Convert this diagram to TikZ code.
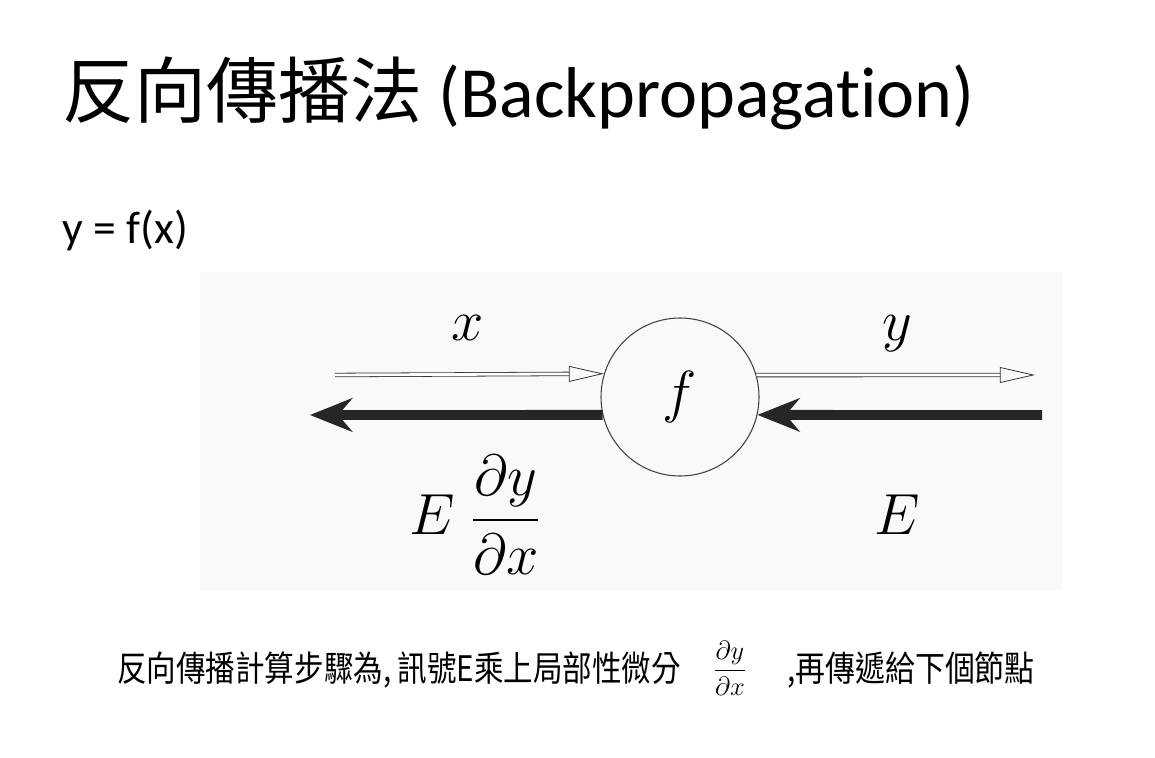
\documentclass[tikz,border=0pt]{standalone}
\usepackage{fix-cm}
\usepackage{amsmath}
\usepackage{fontspec}
\setmainfont{Carlito}[Ligatures=NoCommon]
\newfontfamily\cjk{Noto Sans CJK TC}
\usepackage{tikz}
\usetikzlibrary{arrows.meta}
\tikzset{
  fwdarrow/.style={-{Triangle[open, length=20pt, width=9pt]}, double, double distance=1.6pt,
    line width=0.45pt, draw=black!80},
  backarrow/.style={-{Stealth[length=24pt, width=19pt, inset=8pt]}, line width=5.6pt, draw=black!85},
  mathlbl/.style={font=\fontsize{33}{40}\selectfont, inner sep=1pt}
}
\definecolor{ScanBg}{HTML}{F9F9F9}

\begin{document}
\begin{tikzpicture}[
  fnode/.style={draw=black!75, circle, line width=0.6pt, minimum size=3.16cm, inner sep=0pt,
    font=\fontsize{33}{40}\selectfont},
  titletext/.style={anchor=base west, inner sep=0pt, font=\fontsize{41}{49}\selectfont},
  captext/.style={anchor=base west, inner sep=0pt, font=\fontsize{20}{24}\selectfont\cjk}
]
\useasboundingbox (0,0) rectangle (23.1,-15.16);

% Heading and the function line
\node[titletext] at (1.24,-2.36) (title) {{\cjk 反向傳播法} (Backpropagation)};
\node[anchor=base west, inner sep=0pt, font=\fontsize{26}{31}\selectfont] at (1.24,-4.86) (func) {y = f(x)};

% Scanned figure: the node f with forward and backward signals
\fill[ScanBg] (4.0,-5.44) rectangle (21.24,-11.8);
\node[fnode] at (13.6,-7.94) (f) {$f$};
\coordinate (xin) at (6.7,-7.5);
\coordinate (yout) at (20.7,-7.5);
\coordinate (xback) at (6.2,-8.3);
\coordinate (ysrc) at (20.84,-8.3);

\draw[fwdarrow] (xin) -- (f.163.8);
\draw[fwdarrow] (f.16) -- (yout);
\draw[backarrow] (ysrc) -- (f.-13);
\draw[backarrow] (f.193) -- (xback);

\node[mathlbl, anchor=base] at (9.36,-6.8) (xlbl) {$x$};
\node[mathlbl, anchor=base] at (17.94,-6.8) (ylbl) {$y$};
\node[mathlbl] at (9.5,-10.3) (backlbl) {$E\;\dfrac{\partial y}{\partial x}$};
\node[mathlbl] at (17.94,-10.3) (elbl) {$E$};

% Caption under the figure
\node[captext] at (2.34,-13.62) (cap) {\scalebox{0.84}[1]{反向傳播計算步驟為, 訊號E乘上局部性微分}};
\node[font=\fontsize{15}{18}\selectfont, inner sep=1pt] at (14.6,-13.36) (capfrac) {$\dfrac{\partial y}{\partial x}$};
\node[captext] at (15.74,-13.62) (caprest) {\scalebox{0.85}[1]{,再傳遞給下個節點}};
\end{tikzpicture}
\end{document}
